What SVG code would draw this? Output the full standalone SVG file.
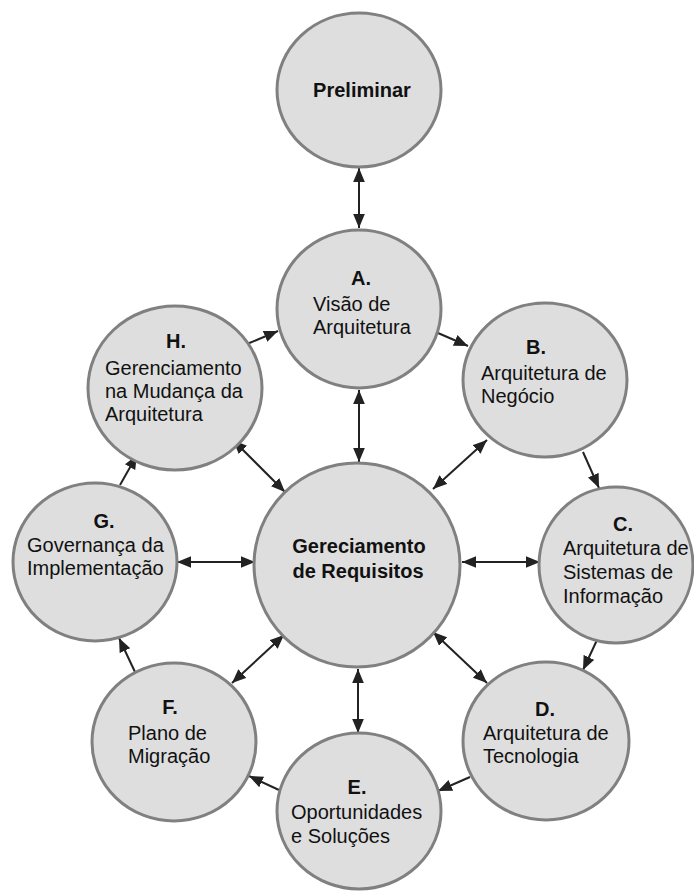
<svg xmlns="http://www.w3.org/2000/svg" width="694" height="896" viewBox="0 0 694 896">
<style>
.n{fill:#dedede;stroke:#808080;stroke-width:3}
text{font-family:"Liberation Sans",Arial,sans-serif;font-size:20px;fill:#111}
.h{font-weight:bold;text-anchor:middle}
.c{stroke:#222;stroke-width:2;fill:none}
</style>
<defs>
<marker id="ah" markerUnits="userSpaceOnUse" markerWidth="14" markerHeight="12" refX="12" refY="5" orient="auto-start-reverse" viewBox="0 0 12 10">
<path d="M0,0 L12,5 L0,10 z" fill="#222"/>
</marker>
</defs>
<rect width="694" height="896" fill="#fff"/>
<g id="connectors">
<line class="c" x1="359" y1="168" x2="359" y2="228" marker-start="url(#ah)" marker-end="url(#ah)"/>
<line class="c" x1="359" y1="390" x2="359" y2="462" marker-start="url(#ah)" marker-end="url(#ah)"/>
<line class="c" x1="358" y1="669" x2="358" y2="733" marker-start="url(#ah)" marker-end="url(#ah)"/>
<line class="c" x1="177" y1="562" x2="255" y2="562" marker-start="url(#ah)" marker-end="url(#ah)"/>
<line class="c" x1="462" y1="562" x2="540" y2="562" marker-start="url(#ah)" marker-end="url(#ah)"/>
<line class="c" x1="233" y1="440" x2="285" y2="492" marker-start="url(#ah)" marker-end="url(#ah)"/>
<line class="c" x1="487" y1="440" x2="433" y2="489" marker-start="url(#ah)" marker-end="url(#ah)"/>
<line class="c" x1="232" y1="683" x2="284" y2="635" marker-start="url(#ah)" marker-end="url(#ah)"/>
<line class="c" x1="487" y1="683" x2="433" y2="632" marker-start="url(#ah)" marker-end="url(#ah)"/>
<line class="c" x1="438" y1="333" x2="468" y2="346" marker-end="url(#ah)"/>
<line class="c" x1="247" y1="344" x2="278" y2="331" marker-end="url(#ah)"/>
<line class="c" x1="583" y1="452" x2="599" y2="488" marker-end="url(#ah)"/>
<line class="c" x1="597" y1="640" x2="583" y2="670" marker-end="url(#ah)"/>
<line class="c" x1="470" y1="777" x2="438" y2="791" marker-end="url(#ah)"/>
<line class="c" x1="279" y1="790" x2="249" y2="776" marker-end="url(#ah)"/>
<line class="c" x1="135" y1="672" x2="119" y2="638" marker-end="url(#ah)"/>
<line class="c" x1="120" y1="485" x2="137" y2="455" marker-end="url(#ah)"/>
</g>
<g id="preliminar">
<ellipse class="n" cx="359" cy="90" rx="82" ry="77"/>
<text class="h" x="362" y="97">Preliminar</text>
</g>
<g id="nodeA">
<ellipse class="n" cx="359" cy="309" rx="82" ry="79"/>
<text class="h" x="361" y="285">A.</text>
<text x="313" y="311">Visão de</text>
<text x="313" y="334">Arquitetura</text>
</g>
<g id="nodeB">
<ellipse class="n" cx="545" cy="380" rx="82" ry="77"/>
<text class="h" x="536" y="354">B.</text>
<text x="481" y="380">Arquitetura de</text>
<text x="481" y="403">Negócio</text>
</g>
<g id="nodeC">
<ellipse class="n" cx="616" cy="565" rx="77" ry="78"/>
<text class="h" x="623" y="531">C.</text>
<text x="563" y="555">Arquitetura de</text>
<text x="563" y="579">Sistemas de</text>
<text x="563" y="603">Informação</text>
</g>
<g id="nodeD">
<ellipse class="n" cx="546" cy="741" rx="83" ry="79"/>
<text class="h" x="545" y="716">D.</text>
<text x="483" y="740">Arquitetura de</text>
<text x="483" y="763">Tecnologia</text>
</g>
<g id="nodeE">
<ellipse class="n" cx="359" cy="811" rx="82" ry="78"/>
<text class="h" x="357" y="794">E.</text>
<text x="291" y="819">Oportunidades</text>
<text x="291" y="843">e Soluções</text>
</g>
<g id="nodeF">
<ellipse class="n" cx="174" cy="742" rx="82" ry="79"/>
<text class="h" x="170" y="714">F.</text>
<text x="128" y="740">Plano de</text>
<text x="128" y="763">Migração</text>
</g>
<g id="nodeG">
<ellipse class="n" cx="95" cy="562" rx="82" ry="79"/>
<text class="h" x="104" y="528">G.</text>
<text x="27" y="552">Governança da</text>
<text x="27" y="575">Implementação</text>
</g>
<g id="nodeH">
<ellipse class="n" cx="175" cy="388" rx="87" ry="82"/>
<text class="h" x="176" y="348">H.</text>
<text x="105" y="375">Gerenciamento</text>
<text x="105" y="398">na Mudança da</text>
<text x="105" y="421">Arquitetura</text>
</g>
<g id="center">
<ellipse class="n" cx="357" cy="565" rx="103" ry="102"/>
<text class="h" x="359" y="553">Gereciamento</text>
<text class="h" x="358" y="578">de Requisitos</text>
</g>
</svg>
